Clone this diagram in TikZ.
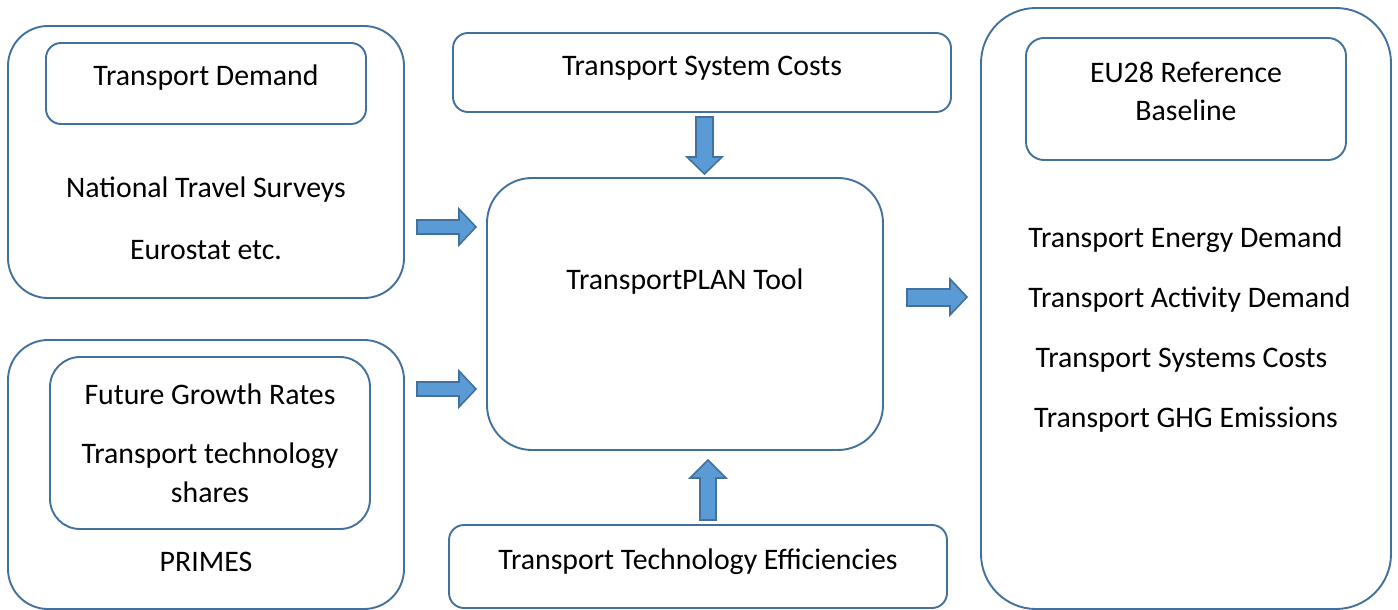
\documentclass[tikz,border=0pt]{standalone}
\usepackage{fontspec}
\setmainfont{Carlito}
\definecolor{boxline}{RGB}{65,113,156}
\definecolor{arrowfill}{RGB}{91,155,213}
\begin{document}
\begin{tikzpicture}[x=1pt,y=-1pt,
  box/.style={draw=boxline,line width=1.9pt,rectangle,inner sep=0pt,fill=none},
  lbl/.style={anchor=base,inner sep=0pt,font=\fontsize{29.8}{36}\selectfont},
  barrow/.style={draw=boxline,line width=1.6pt,fill=arrowfill,line join=miter}]
\useasboundingbox (0,0) rectangle (1398,610);
% boxes
\node[box,rounded corners=40pt,minimum width=396pt,minimum height=272pt] (tlo) at (206,162) {};
\node[box,rounded corners=15pt,minimum width=320pt,minimum height=81pt] (td) at (206,83.5) {};
\node[box,rounded corners=40pt,minimum width=396pt,minimum height=269pt] (blo) at (206,474.5) {};
\node[box,rounded corners=30pt,minimum width=320pt,minimum height=172pt] (bli) at (210,443) {};
\node[box,rounded corners=15pt,minimum width=498pt,minimum height=79pt] (tsc) at (702,72.5) {};
\node[box,rounded corners=45pt,minimum width=396pt,minimum height=272pt] (tool) at (685,314) {};
\node[box,rounded corners=15pt,minimum width=498pt,minimum height=83pt] (tte) at (698,566.5) {};
\node[box,rounded corners=55pt,minimum width=410pt,minimum height=601pt] (ro) at (1186,308.5) {};
\node[box,rounded corners=18pt,minimum width=320pt,minimum height=122pt] (eu) at (1186,99) {};
% texts
\node[lbl] (t1) at (206,85) {Transport Demand};
\node[lbl] (t2) at (206,197) {National Travel Surveys};
\node[lbl] (t3) at (206,259) {Eurostat etc.};
\node[lbl] (t4) at (210,404) {Future Growth Rates};
\node[lbl] (t5) at (210,463) {Transport technology};
\node[lbl] (t6) at (210,502) {shares};
\node[lbl] (t7) at (206,571) {PRIMES};
\node[lbl] (t8) at (702,75) {Transport System Costs};
\node[lbl] (t9) at (685,289) {TransportPLAN Tool};
\node[lbl] (t10) at (698,569) {Transport Technology Efficiencies};
\node[lbl] (t11) at (1186,83) {EU28 Reference};
\node[lbl] (t12) at (1186,121) {Baseline};
\node[lbl] (t13) at (1185.5,247) {Transport Energy Demand};
\node[lbl] (t14) at (1189.5,307) {Transport Activity Demand};
\node[lbl] (t15) at (1181.5,367) {Transport Systems Costs};
\node[lbl] (t16) at (1186,427) {Transport GHG Emissions};
% block arrows
\draw[barrow] (417,220) -- (459,220) -- (459,209) -- (476,227) -- (459,245) -- (459,234) -- (417,234) -- cycle;
\draw[barrow] (417,382) -- (459,382) -- (459,371) -- (476,389) -- (459,407) -- (459,396) -- (417,396) -- cycle;
\draw[barrow] (907,289) -- (950,289) -- (950,279) -- (967,297) -- (950,315) -- (950,306) -- (907,306) -- cycle;
\draw[barrow] (696,117) -- (713,117) -- (713,157) -- (722,157) -- (704.5,174) -- (687,157) -- (696,157) -- cycle;
\draw[barrow] (700,520) -- (716,520) -- (716,478) -- (726,478) -- (708,460) -- (690,478) -- (700,478) -- cycle;
\end{tikzpicture}
\end{document}
